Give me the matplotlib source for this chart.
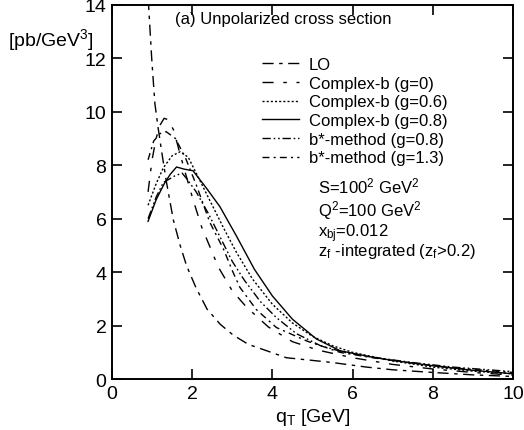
import matplotlib
matplotlib.use('Agg')
import matplotlib.pyplot as plt

plt.rcParams['font.family'] = ['Liberation Sans', 'DejaVu Sans']
plt.rcParams['mathtext.fontset'] = 'custom'
plt.rcParams['mathtext.rm'] = 'Liberation Sans'
plt.rcParams['mathtext.it'] = 'Liberation Sans'

# values
qt_lo = [0.9, 0.99, 1.07, 1.15, 1.25, 1.36, 1.53, 1.7, 1.86, 2.1, 2.37, 2.7, 3.02, 3.4, 3.86,
         4.35, 5.0, 5.5, 6.35, 7.0, 8.0, 9.0, 10.0]
lo = [14.3, 12.0, 10.3, 9.4, 8.4, 7.35, 5.95, 5.0, 4.24, 3.4, 2.62, 2.05, 1.65, 1.3, 1.06,
      0.8, 0.7, 0.62, 0.45, 0.35, 0.25, 0.16, 0.1]

qt_g0 = [0.9, 1.0, 1.1, 1.2, 1.3, 1.4, 1.54, 1.7, 1.85, 2.03, 2.24, 2.52, 2.64, 3.0, 3.35,
         3.9, 4.5, 5.15, 6.0, 7.0, 8.0, 9.0, 10.0]
cb_g0 = [7.0, 8.2, 9.0, 9.5, 9.75, 9.7, 9.3, 8.4, 7.6, 6.67, 5.67, 4.67, 4.22, 3.3, 2.7,
         1.95, 1.4, 1.08, 0.8, 0.55, 0.38, 0.25, 0.15]

qt_g06 = [0.9, 1.1, 1.28, 1.5, 1.7, 1.9, 2.2, 2.5, 2.8, 3.1, 3.5, 4.0, 4.5, 5.0, 5.5, 6.0,
          7.0, 8.0, 9.0, 10.0]
cb_g06 = [6.5, 7.3, 7.9, 8.35, 8.5, 8.3, 7.4, 6.5, 5.6, 4.75, 3.75, 2.8, 2.1, 1.6, 1.25, 1.0,
          0.68, 0.45, 0.3, 0.2]

qt_g08 = [0.9, 1.0, 1.1, 1.2, 1.32, 1.45, 1.61, 1.8, 2.02, 2.35, 2.69, 3.1, 3.55, 4.0, 4.5,
          5.1, 5.69, 6.5, 7.0, 8.0, 9.0, 10.0]
cb_g08 = [5.9, 6.3, 6.7, 7.0, 7.35, 7.65, 7.93, 7.85, 7.79, 7.15, 6.45, 5.36, 4.11, 3.11, 2.24,
          1.5, 1.06, 0.82, 0.7, 0.5, 0.33, 0.2]

qt_bs08 = [0.9, 1.1, 1.28, 1.57, 1.75, 1.87, 2.1, 2.4, 2.7, 3.0, 3.3, 3.7, 4.1, 4.6, 5.2,
           5.8, 6.5, 7.5, 8.5, 10.0]
bs_g08 = [6.0, 6.8, 7.35, 7.6, 7.7, 7.48, 7.0, 6.2, 5.3, 4.4, 3.7, 2.9, 2.3, 1.7, 1.25,
          1.0, 0.82, 0.62, 0.45, 0.28]

qt_bs13 = [0.9, 1.04, 1.2, 1.35, 1.58, 1.83, 2.11, 2.44, 2.78, 3.02, 3.19, 3.6, 4.1, 4.85,
           5.69, 6.5, 7.5, 8.5, 10.0]
bs_g13 = [8.2, 8.9, 9.18, 9.25, 9.0, 8.28, 7.23, 5.86, 4.86, 3.99, 3.43, 2.6, 1.93, 1.43,
          1.0, 0.8, 0.6, 0.42, 0.25]

fig = plt.figure(figsize=(5.24, 4.31), dpi=100)
ax = fig.add_axes([0.2137, 0.118, 0.7653, 0.869])

lw = 1.0
ax.plot(qt_lo, lo, color='black', lw=lw, dashes=(8, 4, 2.5, 4), label='LO')
ax.plot(qt_g0, cb_g0, color='black', lw=lw, dashes=(8, 7, 2.5, 7), label='Complex-b (g=0)')
ax.plot(qt_g06, cb_g06, color='black', lw=lw, dashes=(1.5, 1.5), label='Complex-b (g=0.6)')
ax.plot(qt_g08, cb_g08, color='black', lw=lw, label='Complex-b (g=0.8)')
ax.plot(qt_bs08, bs_g08, color='black', lw=lw, dashes=(6, 2, 1.2, 2, 1.2, 2), label='b*-method (g=0.8)')
ax.plot(qt_bs13, bs_g13, color='black', lw=lw, dashes=(5, 3, 1.5, 3), label='b*-method (g=1.3)')

ax.set_xlim(0, 10)
ax.set_ylim(0, 14)
ax.set_xticks([0, 2, 4, 6, 8, 10])
ax.set_yticks([0, 2, 4, 6, 8, 10, 12, 14])
ax.tick_params(direction='in', length=7, width=1.2, top=True, right=True, labelsize=14, pad=4)
for s in ax.spines.values():
    s.set_linewidth(1.4)

ax.set_xlabel('q$_\\mathrm{T}$ [GeV]', fontsize=14, labelpad=3)
fig.text(0.015, 0.907, '[pb/GeV$^3$]', fontsize=14, va='center', ha='left')

ax.text(0.157, 0.962, '(a) Unpolarized cross section', transform=ax.transAxes, fontsize=12, va='center')

ax.legend(loc='upper left', bbox_to_anchor=(0.374, 0.86), frameon=False, fontsize=12,
          handlelength=2.2, handletextpad=0.6, labelspacing=0.22, borderpad=0, borderaxespad=0)

notes = ['S=100$^2$ GeV$^2$', 'Q$^2$=100 GeV$^2$', 'x$_\\mathrm{bj}$=0.012',
         'z$_\\mathrm{f}$ -integrated (z$_\\mathrm{f}$>0.2)']
note_y = [0.517, 0.452, 0.39, 0.343]
for t, y in zip(notes, note_y):
    ax.text(0.514, y, t, transform=ax.transAxes, fontsize=12, va='center')

plt.savefig('out.png', dpi=100)
